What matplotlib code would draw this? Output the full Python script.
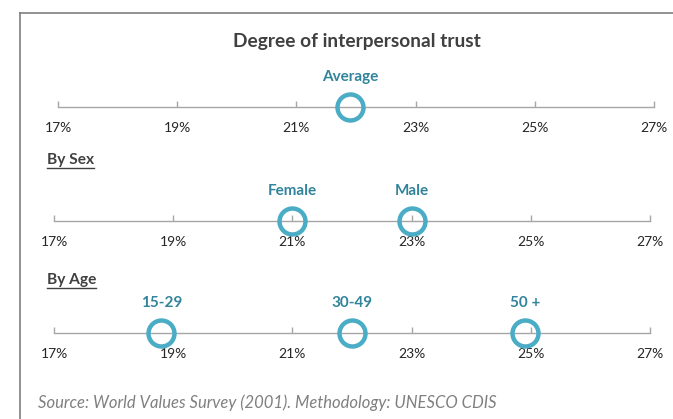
import matplotlib
matplotlib.use("Agg")
import matplotlib.pyplot as plt
from matplotlib.lines import Line2D

# values (percent)
avg_labels = ["Average"]
avg_values = [21.9]
sex_labels = ["Female", "Male"]
sex_values = [21.0, 23.0]
age_labels = ["15-29", "30-49", "50 +"]
age_values = [18.8, 22.0, 24.9]
tick_values = [17, 19, 21, 23, 25, 27]
tick_labels = ["17%", "19%", "21%", "23%", "25%", "27%"]

W, H = 673, 419
RING = "#4BACC6"
LABEL = "#31849B"
DARK = "#404040"

plt.rcParams["font.family"] = ["Lato", "DejaVu Sans"]

fig = plt.figure(figsize=(W / 100, H / 100), dpi=100)
fig.patch.set_facecolor("white")


def px_x(x):
    return x / W


def px_y(y):
    return 1 - y / H


def scale_row(x0, x1, y, labels, values):
    band = 40
    ax = fig.add_axes([px_x(x0), px_y(y + band / 2), (x1 - x0) / W, band / H])
    ax.set_xlim(17, 27)
    ax.set_ylim(-1, 1)
    ax.patch.set_alpha(0)
    for side in ["top", "left", "right"]:
        ax.spines[side].set_visible(False)
    ax.spines["bottom"].set_position(("data", 0))
    ax.spines["bottom"].set_color("#A6A6A6")
    ax.spines["bottom"].set_linewidth(1.0)
    ax.set_yticks([])
    ax.set_xticks(tick_values)
    ax.set_xticklabels(tick_labels)
    ax.tick_params(axis="x", direction="in", length=4, width=1.0,
                   color="#A6A6A6", labelsize=10, labelcolor="#262626", pad=10.5)
    ax.plot(values, [0] * len(values), "o", ms=18.7, mfc="none", mec=RING,
            mew=3.2, clip_on=False, zorder=5)
    for lab, v in zip(labels, values):
        ax.annotate(lab, (v, 0), xytext=(0, 21.5), textcoords="offset points",
                    ha="center", va="center", fontsize=11, fontweight="bold",
                    color=LABEL)
    return ax


scale_row(58, 654, 107, avg_labels, avg_values)
scale_row(54, 650, 221, sex_labels, sex_values)
scale_row(54, 650, 333, age_labels, age_values)

# frame: top and left edges only
fig.add_artist(Line2D([px_x(20), 1.0], [px_y(13), px_y(13)], color="#7F7F7F", lw=1.2))
fig.add_artist(Line2D([px_x(20), px_x(20)], [px_y(13), 0.0], color="#7F7F7F", lw=1.2))

fig.text(px_x(357), px_y(41), "Degree of interpersonal trust", ha="center",
         va="center", fontsize=13.8, fontweight="bold", color=DARK)

renderer = fig.canvas.get_renderer()
for txt, y in [("By Sex", 160), ("By Age", 280)]:
    t = fig.text(px_x(47), px_y(y), txt, ha="left", va="center", fontsize=11.2,
                 fontweight="bold", color=DARK)
    bb = t.get_window_extent(renderer)
    uy = (bb.y0 - 1) / H
    fig.add_artist(Line2D([bb.x0 / W, bb.x1 / W], [uy, uy], color=DARK, lw=1.0))

fig.text(px_x(38), px_y(403),
         "Source: World Values Survey (2001). Methodology: UNESCO CDIS",
         ha="left", va="center", fontsize=12, fontstyle="italic", color="#808080")

fig.savefig("out.png", dpi=100, facecolor="white")
